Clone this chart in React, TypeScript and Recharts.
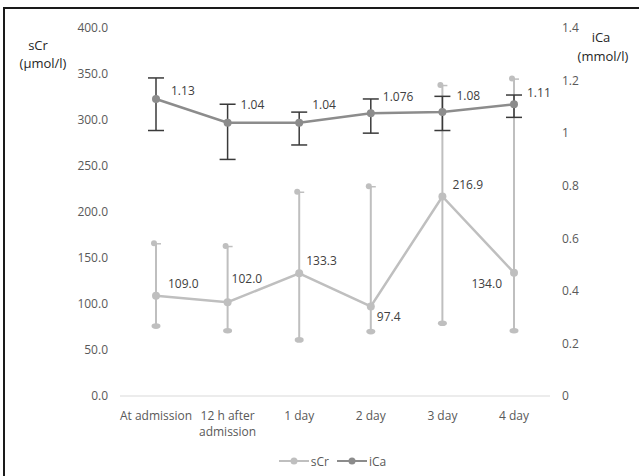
import { ComposedChart, Line, XAxis, YAxis, ErrorBar, LabelList, Legend } from 'recharts';

const categories = ['At admission', '12 h after\nadmission', '1 day', '2 day', '3 day', '4 day'];
const sCr = [109.0, 102.0, 133.3, 97.4, 216.9, 134.0];
const sCrHigh = [166, 163, 222, 228, 338, 345];
const sCrLow = [76, 71, 61, 70, 79, 71];
const iCa = [1.13, 1.04, 1.04, 1.076, 1.08, 1.11];
const iCaHigh = [1.21, 1.11, 1.08, 1.13, 1.14, 1.145];
const iCaLow = [1.01, 0.9, 0.955, 1.0, 1.01, 1.06];

const leftTicks = [0, 50, 100, 150, 200, 250, 300, 350, 400];
const rightTicks = [0, 0.2, 0.4, 0.6, 0.8, 1, 1.2, 1.4];
const legendOrder = ['sCr', 'iCa'];

const data = categories.map((name, i) => ({
  name,
  sCr: sCr[i],
  sCrHi: sCrHigh[i],
  sCrLo: sCrLow[i],
  sCrErr: [sCr[i] - sCrLow[i], sCrHigh[i] - sCr[i]],
  iCa: iCa[i],
  iCaErr: [iCa[i] - iCaLow[i], iCaHigh[i] - iCa[i]],
}));

const FONT = '"Open Sans", sans-serif';
const SCR_COLOR = '#bfbfbf';
const ICA_COLOR = '#8c8c8c';
const TEXT = '#404040';
const FS = 12;

// label placement relative to each point (Excel-style manual labels)
const sCrLabelPos = [
  { dx: 12, dy: -12, anchor: 'start' },
  { dx: 4, dy: -24, anchor: 'start' },
  { dx: 7, dy: -13, anchor: 'start' },
  { dx: 6, dy: 10, anchor: 'start' },
  { dx: 10, dy: -12, anchor: 'start' },
  { dx: -12, dy: 11, anchor: 'end' },
];
const iCaLabelPos = [
  { dx: 15, dy: -8 },
  { dx: 13, dy: -18 },
  { dx: 13, dy: -18 },
  { dx: 12, dy: -17 },
  { dx: 14, dy: -17 },
  { dx: 13, dy: -12 },
];

const XTick = ({ x, y, payload }: any) => {
  const lines = String(payload.value).split('\n');
  return (
    <g>
      {lines.map((l, i) => (
        <text key={i} x={x} y={y + 11 + i * 16} textAnchor="middle" dominantBaseline="central"
          fontSize={FS} fontFamily={FONT} fill="#595959">
          {l}
        </text>
      ))}
    </g>
  );
};

const TopCap = ({ cx, cy }: any) => (
  <g>
    <circle cx={cx - 2} cy={cy} r={3} fill={SCR_COLOR} />
    <line x1={cx} y1={cy + 0.5} x2={cx + 5} y2={cy + 0.5} stroke={SCR_COLOR} strokeWidth={1.5} />
  </g>
);

const BottomCap = ({ cx, cy }: any) => (
  <ellipse cx={cx} cy={cy} rx={4.5} ry={2.8} fill={SCR_COLOR} />
);

const sCrLabel = ({ x, y, index, value }: any) => {
  const p = sCrLabelPos[index];
  return (
    <text x={x + p.dx} y={y + p.dy} textAnchor={p.anchor as any} dominantBaseline="central"
      fontSize={FS} fontFamily={FONT} fill={TEXT}>
      {Number(value).toFixed(1)}
    </text>
  );
};

const iCaLabel = ({ x, y, index, value }: any) => {
  const p = iCaLabelPos[index];
  return (
    <text x={x + p.dx} y={y + p.dy} textAnchor="start" dominantBaseline="central"
      fontSize={FS} fontFamily={FONT} fill={TEXT}>
      {String(value)}
    </text>
  );
};

const LeftTitle = ({ viewBox }: any) => (
  <g fontFamily={FONT} fontSize={13} fill="#262626">
    <text x={viewBox.x + 38} y={viewBox.y + 17} textAnchor="middle" dominantBaseline="central">sCr</text>
    <text x={viewBox.x + 43} y={viewBox.y + 35} textAnchor="middle" dominantBaseline="central">(µmol/l)</text>
  </g>
);

const RightTitle = ({ viewBox }: any) => (
  <g fontFamily={FONT} fontSize={13} fill="#262626">
    <text x={viewBox.x + 51} y={viewBox.y + 9} textAnchor="middle" dominantBaseline="central">iCa</text>
    <text x={viewBox.x + 53} y={viewBox.y + 28} textAnchor="middle" dominantBaseline="central">(mmol/l)</text>
  </g>
);

const LegendContent = ({ payload }: any) => {
  const items = (payload || [])
    .filter((p: any) => legendOrder.includes(p.value))
    .sort((a: any, b: any) => legendOrder.indexOf(a.value) - legendOrder.indexOf(b.value));
  return (
    <div style={{ display: 'flex', justifyContent: 'center', alignItems: 'center', height: 30, paddingLeft: 34,
      fontFamily: FONT, fontSize: FS, color: '#595959' }}>
      {items.map((p: any) => (
        <div key={p.value} style={{ display: 'flex', alignItems: 'center', marginRight: 8 }}>
          <svg width={30} height={10} style={{ marginRight: 2 }}>
            <line x1={0} y1={5} x2={30} y2={5} stroke={p.color} strokeWidth={2} />
            <circle cx={15} cy={5} r={3.5} fill={p.color} />
          </svg>
          <span>{p.value}</span>
        </div>
      ))}
    </div>
  );
};

export default function App() {
  return (
    <div style={{ position: 'fixed', left: 0, top: 0, width: 639, height: 476, overflow: 'hidden', background: '#fff' }}>
      <div style={{ position: 'absolute', left: 3, top: 7, width: 700, height: 600, border: '2px solid #1a1a1a' }} />
      <div style={{ position: 'absolute', left: 0, top: 0 }}>
        <ComposedChart width={639} height={476} data={data} margin={{ top: 28, right: 0, bottom: 0, left: 0 }}>
          <XAxis dataKey="name" height={50} tick={<XTick />} tickLine={false} axisLine={{ stroke: '#d9d9d9' }}
            interval={0} padding={{ left: 36, right: 36 }} />
          <YAxis yAxisId="left" width={120} domain={[0, 400]} ticks={leftTicks} axisLine={false} tickLine={false}
            tickMargin={6} tickFormatter={(v: number) => v.toFixed(1)}
            tick={{ fontSize: FS, fontFamily: FONT, fill: '#595959' }}
            label={{ content: LeftTitle }} />
          <YAxis yAxisId="right" orientation="right" width={89} domain={[0, 1.4]} ticks={rightTicks}
            axisLine={false} tickLine={false} tickMargin={6}
            tickFormatter={(v: number) => String(Number(v.toFixed(1)))}
            tick={{ fontSize: FS, fontFamily: FONT, fill: '#595959', textAnchor: 'start' }}
            label={{ content: RightTitle }} />
          <Legend verticalAlign="bottom" height={30} content={<LegendContent />} />
          <Line yAxisId="left" dataKey="sCr" name="sCr" stroke={SCR_COLOR} strokeWidth={2.5}
            dot={{ r: 4, fill: SCR_COLOR, stroke: SCR_COLOR, strokeWidth: 0 }} isAnimationActive={false}>
            <ErrorBar dataKey="sCrErr" width={0} stroke={SCR_COLOR} strokeWidth={2} isAnimationActive={false} />
            <LabelList dataKey="sCr" content={sCrLabel} />
          </Line>
          <Line yAxisId="left" dataKey="sCrHi" name="sCrHi" stroke="none" legendType="none"
            dot={<TopCap />} activeDot={false} isAnimationActive={false} />
          <Line yAxisId="left" dataKey="sCrLo" name="sCrLo" stroke="none" legendType="none"
            dot={<BottomCap />} activeDot={false} isAnimationActive={false} />
          <Line yAxisId="right" dataKey="iCa" name="iCa" stroke={ICA_COLOR} strokeWidth={2.5}
            dot={{ r: 4, fill: ICA_COLOR, stroke: ICA_COLOR, strokeWidth: 0 }} isAnimationActive={false}>
            <ErrorBar dataKey="iCaErr" width={8} stroke="#3a3a3a" strokeWidth={1.5} isAnimationActive={false} />
            <LabelList dataKey="iCa" content={iCaLabel} />
          </Line>
        </ComposedChart>
      </div>
    </div>
  );
}
